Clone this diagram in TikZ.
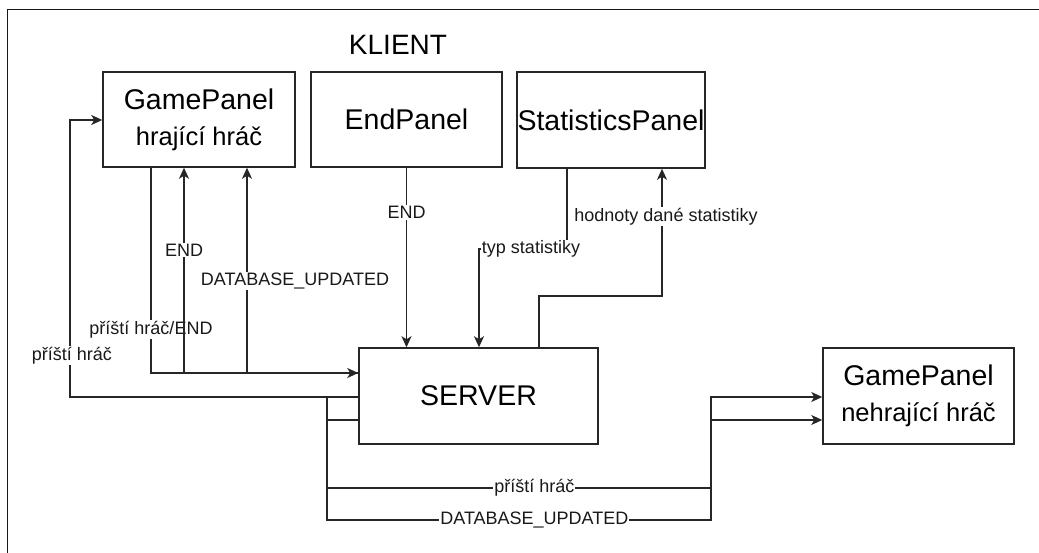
\documentclass[tikz,border=0pt]{standalone}
\usepackage{fontspec}
\setmainfont{Liberation Sans}
\usetikzlibrary{arrows.meta}
\begin{document}
\begin{tikzpicture}[x=1pt,y=-1pt,
  box/.style={draw=black!85, line width=1.5pt, inner sep=0pt, fill=white,
    align=center, font=\fontsize{28.5}{36}\selectfont},
  big/.style={font=\fontsize{28}{34}\selectfont, inner sep=0pt},
  conn/.style={draw=black!85, line width=1.5pt},
  arr/.style={conn, -{Stealth[length=11pt,width=10pt,inset=3pt]}},
  lbl/.style={fill=white, inner sep=1pt, font=\fontsize{18}{21}\selectfont, text=black!90}]
\useasboundingbox (0,0) rectangle (1039,553);
\fill[white] (0,0) rectangle (1039,553);
% frame (only top and left edges visible)
\draw[black!90, line width=1.8pt] (7.5,553) -- (7.5,9.5) -- (1039,9.5);

\node[big] (klient) at (398,45) {KLIENT};

\node[box, minimum width=192pt, minimum height=95pt] (GP1) at (199,119.5)
  {GamePanel\\{\fontsize{25.5}{30}\selectfont hrající hráč}};
\node[box, minimum width=191pt, minimum height=95pt] (End) at (406.5,119.5) {EndPanel};
\node[box, minimum width=188pt, minimum height=96pt] (Stat) at (611,120) {StatisticsPanel};
\node[box, minimum width=239pt, minimum height=96pt] (SERVER) at (478.5,396) {SERVER};
\node[box, minimum width=191pt, minimum height=96pt] (GP2) at (918.5,396)
  {GamePanel\\{\fontsize{25.5}{30}\selectfont nehrající hráč}};

% helper coordinates
\coordinate (p1) at (151,373);
\coordinate (c184) at (184,373);
\coordinate (c247) at (247,373);
\coordinate (lA) at (70,397);
\coordinate (lB) at (70,120);
\coordinate (t1) at (567,249);
\coordinate (t2) at (479,249);
\coordinate (h1) at (539,296);
\coordinate (h2) at (662,296);
\coordinate (j1) at (327,397);
\coordinate (j2) at (327,420);
\coordinate (b1) at (327,488);
\coordinate (b2) at (711,488);
\coordinate (b3) at (327,520);
\coordinate (b4) at (711,520);
\coordinate (r1) at (711,397);
\coordinate (r2) at (711,420);

% GamePanel -> SERVER
\draw[arr] (GP1.south -| p1) -- node[lbl,pos=0.79]{příští hráč/END} (p1) -- (SERVER.west |- p1);
% SERVER -> GamePanel (END)
\draw[arr] (SERVER.west |- p1) -- (c184) -- node[lbl,pos=0.6]{END} (GP1.south -| c184);
% SERVER -> GamePanel (DATABASE_UPDATED)
\draw[arr] (SERVER.west |- p1) -- (c247) -- node[lbl,pos=0.447,xshift=48pt]{DATABASE\_UPDATED} (GP1.south -| c247);
% SERVER -> GamePanel (příští hráč)
\draw[arr] (SERVER.west |- lA) -- (lA) -- node[lbl,pos=0.15,xshift=2pt]{příští hráč} (lB) -- (GP1.west |- lB);
% EndPanel -> SERVER
\draw[arr] (End.south) -- node[lbl,pos=0.25]{END} (SERVER.north -| End.south);
% StatisticsPanel -> SERVER
\draw[arr] (Stat.south -| t1) -- (t1) -- node[lbl,xshift=8pt]{typ statistiky} (t2) -- (SERVER.north -| t2);
% SERVER -> StatisticsPanel
\draw[arr] (SERVER.north -| h1) -- (h1) -- (h2) -- node[lbl,pos=0.625,xshift=4pt]{hodnoty dané statistiky} (Stat.south -| h2);
% SERVER -> GamePanel nehrající
\draw[arr] (SERVER.west |- j1) -- (j1) -- (b1) -- node[lbl,pos=0.54]{příští hráč} (b2) -- (r1) -- (GP2.west |- r1);
\draw[arr] (SERVER.west |- j2) -- (j2) -- (b3) -- node[lbl,pos=0.54]{DATABASE\_UPDATED} (b4) -- (r2) -- (GP2.west |- r2);
\end{tikzpicture}
\end{document}
